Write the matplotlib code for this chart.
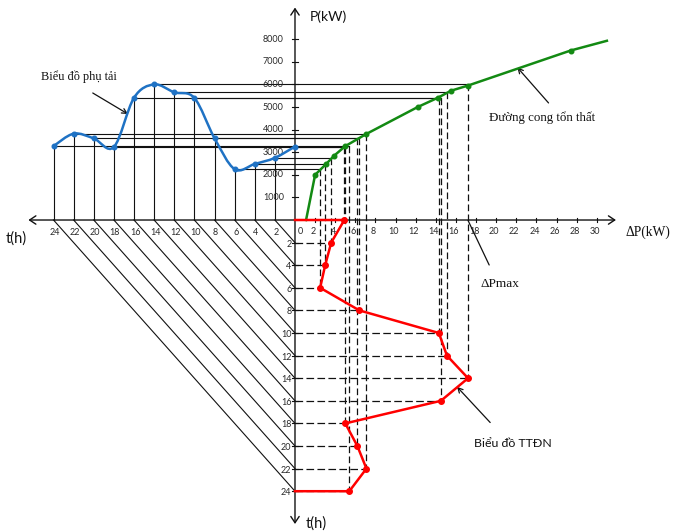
import matplotlib
matplotlib.use("Agg")
import matplotlib.pyplot as plt
from matplotlib.path import Path
from matplotlib.patches import PathPatch

plt.rcParams['lines.scale_dashes'] = False

# Hourly data (every 2 h)
hours = [0, 2, 4, 6, 8, 10, 12, 14, 16, 18, 20, 22, 24]
load_kw = [3250, 2750, 2480, 2250, 3620, 5400, 5650, 6000, 5410, 3230, 3610, 3820, 3270]
loss_kw = [4.9, 3.6, 3.0, 2.5, 6.4, 14.3, 15.1, 17.2, 14.5, 5.0, 6.2, 7.1, 5.4]

# Loss curve ΔP = f(P)
curve_load_kw = [0, 2000, 2480, 2850, 3270, 3810, 5000, 5410, 5720, 5950, 7500, 7930]
curve_loss_kw = [1.1, 2.0, 3.1, 3.9, 5.0, 7.1, 12.2, 14.2, 15.5, 17.2, 27.4, 31.0]

p_ticks = [1000, 2000, 3000, 4000, 5000, 6000, 7000, 8000]
dp_ticks = [2, 4, 6, 8, 10, 12, 14, 16, 18, 20, 22, 24, 26, 28, 30]
t_ticks = [2, 4, 6, 8, 10, 12, 14, 16, 18, 20, 22, 24]

DOWN = 500.0        # P-units per hour on the downward time axis
LEFT = 1.0          # ΔP-units per hour on the leftward time axis

BLUE = '#1f72c4'
GREEN = '#138a13'
RED = '#ff0000'
INK = '#111111'
LBL = '#2a2a2a'
SANS = 'Lato'
SERIF = 'Liberation Serif'
TICK_FS = 6.5

fig = plt.figure(figsize=(6.74, 5.32), dpi=100)
ax = fig.add_axes([0, 0, 1, 1])
ax.set_xlim(-29.32, 37.67)
ax.set_ylim(-13805, 9735)
ax.axis('off')

# --- axes with arrows
ax.annotate('', xy=(31.9, 0), xytext=(-26.5, 0),
            arrowprops=dict(arrowstyle='<->,head_length=0.45,head_width=0.3', lw=1.0,
                            color=INK, shrinkA=0, shrinkB=0))
ax.annotate('', xy=(0, 9400), xytext=(0, -13450),
            arrowprops=dict(arrowstyle='<->,head_length=0.45,head_width=0.3', lw=1.0,
                            color=INK, shrinkA=0, shrinkB=0))

# tick marks and labels
for p in p_ticks:
    ax.plot([-0.25, 0.25], [p, p], color=INK, lw=0.8)
    ax.text(-1.1, p, f'{p}', ha='right', va='center', fontsize=TICK_FS, family=SANS, color=LBL)
for d in dp_ticks:
    ax.plot([d, d], [-90, 90], color=INK, lw=0.8)
    ax.text(d - 0.2, -520, f'{d}', ha='center', va='center', fontsize=TICK_FS, family=SANS, color=LBL)
ax.text(0.55, -520, '0', ha='center', va='center', fontsize=TICK_FS, family=SANS, color=LBL)
for t in t_ticks:
    ax.text(-t * LEFT + 0.1, -540, f'{t}', ha='center', va='center', fontsize=TICK_FS, family=SANS, color=LBL)
    ax.plot([-0.25, 0.25], [-t * DOWN, -t * DOWN], color=INK, lw=0.8)
    ax.text(-0.35, -t * DOWN - 70, f'{t}', ha='right', va='center', fontsize=TICK_FS, family=SANS, color=LBL)

# --- projection lines
for t, p, dp in zip(hours, load_kw, loss_kw):
    xl = -t * LEFT
    yd = -t * DOWN
    # load point -> loss curve
    ax.plot([xl, dp], [p, p], color=INK, lw=0.8, zorder=2)
    if t > 0:
        # load point -> time axis, then diagonal to the downward time axis
        ax.plot([xl, xl], [p, 0], color=INK, lw=0.8, zorder=2)
        ax.plot([xl, 0], [0, yd], color=INK, lw=0.8, zorder=2)
    # loss curve -> loss chart
    ax.plot([dp, dp], [p, yd], color=INK, lw=0.9, dashes=(4.8, 2.4), zorder=2)
    if t > 0:
        ax.plot([0, dp], [yd, yd], color=INK, lw=0.9, dashes=(5.5, 2.4), zorder=2)

# --- load curve (smooth Catmull-Rom through the points)
pts = [(-t * LEFT, p) for t, p in zip(hours, load_kw)]
ext = [pts[0]] + pts + [pts[-1]]
verts = [pts[0]]
codes = [Path.MOVETO]
for i in range(1, len(ext) - 2):
    p0, p1, p2, p3 = ext[i - 1], ext[i], ext[i + 1], ext[i + 2]
    c1 = (p1[0] + (p2[0] - p0[0]) / 6, p1[1] + (p2[1] - p0[1]) / 6)
    c2 = (p2[0] - (p3[0] - p1[0]) / 6, p2[1] - (p3[1] - p1[1]) / 6)
    verts += [c1, c2, p2]
    codes += [Path.CURVE4] * 3
ax.add_patch(PathPatch(Path(verts, codes), fill=False, edgecolor=BLUE, lw=1.8, zorder=4))
ax.plot([q[0] for q in pts], [q[1] for q in pts], 'o', color=BLUE, ms=3.3, zorder=5)

# --- loss curve
ax.plot(curve_loss_kw, curve_load_kw, color=GREEN, lw=1.8, zorder=4)
ax.plot(curve_loss_kw[1:-1], curve_load_kw[1:-1], 'o', color=GREEN, ms=3.3, zorder=5)

# --- energy-loss chart
xs = [0] + loss_kw + [0]
ys = [0] + [-t * DOWN for t in hours] + [-hours[-1] * DOWN]
ax.plot(xs, ys, color=RED, lw=1.8, zorder=4)
ax.plot(loss_kw, [-t * DOWN for t in hours], 'o', color=RED, ms=4.0, zorder=5)

# --- axis titles
ax.text(1.5, 9000, 'P(kW)', ha='left', va='center', fontsize=10, family=SANS, color=INK)
ax.text(32.8, -530, 'ΔP(kW)', ha='left', va='center', fontsize=9.8, family=SERIF, color=INK)
ax.text(-27.7, -830, 't(h)', ha='center', va='center', fontsize=10.5, family=SANS, color=INK)
ax.text(2.15, -13440, 't(h)', ha='center', va='center', fontsize=10.5, family=SANS, color=INK)

# --- annotations
arrow = dict(arrowstyle='->,head_length=0.35,head_width=0.18', lw=0.9, color=INK,
             shrinkA=0, shrinkB=0)
ax.text(-21.5, 6330, 'Biểu đồ phụ tải', ha='center', va='center', fontsize=8.8,
        family=SERIF, color=INK)
ax.annotate('', xy=(-16.6, 4690), xytext=(-20.1, 5620), arrowprops=arrow)
ax.text(24.6, 4540, 'Đường cong tổn thất', ha='center', va='center', fontsize=9.3,
        family=SERIF, color=INK)
ax.annotate('', xy=(22.1, 6750), xytext=(25.2, 5180), arrowprops=arrow)
ax.text(20.4, -2830, 'ΔPmax', ha='center', va='center', fontsize=9.5,
        family=SERIF, color=INK)
ax.annotate('', xy=(17.2, -20), xytext=(19.3, -1990),
            arrowprops=dict(arrowstyle='-', lw=0.9, color=INK, shrinkA=0, shrinkB=0))
ax.text(21.7, -9870, 'Biểu đồ TTĐN', ha='center', va='center', fontsize=8.9,
        family=SANS, color=INK)
ax.annotate('', xy=(16.1, -7380), xytext=(19.4, -8960), arrowprops=arrow)

fig.savefig('out.png', dpi=100)
